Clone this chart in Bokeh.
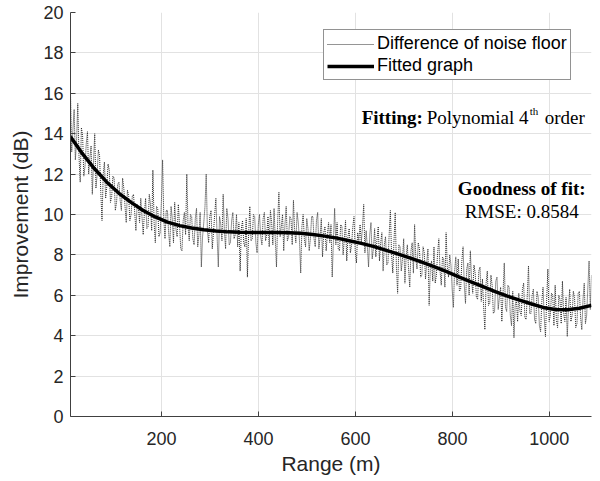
from bokeh.plotting import figure
from bokeh.models import Range1d, Label, Legend, LegendItem, FixedTicker
from bokeh.embed import file_html
from bokeh.resources import INLINE

# Range axis (m): one sample every 2.5 m
range_start = 12
range_step = 2.5
# Difference of noise floor (dB) (20 samples per 50 m)
noise_db = [
    16.0, 13.1, 14.2, 15.2, 12.7, 13.6, 15.5, 12.9, 11.6, 14.3, 13.9, 11.9, 12.4, 13.5, 14.1, 12.0, 12.8, 13.4, 11.0, 12.6,
    14.0, 11.3, 12.0, 13.2, 12.9, 11.1, 9.7, 12.0, 12.6, 10.8, 11.4, 12.5, 12.2, 10.6, 10.9, 11.9, 11.8, 10.2, 10.6, 11.5,
    11.6, 10.7, 10.2, 11.8, 11.3, 10.4, 9.6, 11.2, 10.9, 9.7, 10.0, 10.9, 11.0, 10.1, 9.2, 10.5, 10.4, 9.6, 10.8, 9.9,
    9.0, 10.1, 10.8, 9.3, 9.4, 11.0, 10.5, 9.2, 12.2, 9.6, 8.6, 10.4, 10.3, 8.9, 9.1, 10.6, 12.7, 9.8, 8.8, 10.2,
    10.2, 9.1, 8.4, 10.4, 9.8, 8.6, 10.6, 9.3, 8.9, 10.5, 9.5, 8.3, 8.2, 9.7, 10.1, 9.0, 12.0, 9.4, 8.7, 10.0,
    9.9, 8.8, 8.5, 9.8, 10.3, 8.4, 9.0, 10.1, 7.4, 8.9, 9.6, 10.4, 12.0, 9.2, 8.6, 9.9, 10.2, 8.3, 9.1, 10.0,
    10.8, 8.9, 7.4, 9.9, 9.5, 8.7, 11.0, 9.2, 8.3, 10.3, 9.8, 8.5, 8.6, 9.7, 10.1, 8.8, 9.0, 10.0, 8.4, 9.6,
    7.2, 9.3, 9.7, 8.6, 8.4, 9.8, 6.9, 9.0, 10.4, 8.7, 8.8, 10.0, 9.9, 8.6, 8.1, 9.5, 10.0, 8.9, 8.5, 9.8,
    10.1, 8.7, 9.0, 9.9, 8.4, 10.2, 9.6, 8.5, 10.3, 8.8, 7.4, 9.7, 11.1, 8.9, 9.4, 10.0, 8.2, 9.5, 10.4, 8.7,
    8.9, 9.9, 9.8, 8.5, 10.7, 9.2, 8.6, 10.1, 9.6, 8.7, 7.1, 9.4, 10.0, 8.8, 8.4, 9.8, 9.3, 8.2, 8.8, 9.9,
    9.9, 8.8, 8.4, 9.7, 10.1, 8.3, 8.9, 9.8, 7.9, 9.1, 9.4, 8.2, 9.0, 9.6, 8.6, 9.5, 6.9, 8.7, 10.3, 8.5,
    9.6, 8.3, 8.2, 9.5, 9.4, 8.0, 8.8, 9.7, 7.7, 8.9, 9.3, 8.1, 8.5, 9.4, 9.9, 8.2, 7.6, 9.1, 8.7, 9.5,
    8.6, 9.4, 10.5, 8.1, 9.2, 8.4, 7.4, 9.0, 9.6, 7.8, 8.3, 9.3, 7.9, 8.8, 9.4, 7.7, 8.6, 9.1, 7.2, 8.5,
    8.9, 7.5, 7.6, 9.0, 10.2, 8.0, 7.1, 8.7, 10.1, 7.4, 6.1, 8.5, 8.4, 7.2, 7.8, 8.8, 6.6, 7.9, 8.5, 7.3,
    6.4, 8.2, 8.6, 7.1, 9.5, 7.8, 7.3, 8.6, 8.3, 6.9, 7.0, 8.4, 8.1, 6.8, 7.6, 8.3, 5.5, 7.4, 7.7, 6.7,
    8.4, 6.6, 7.0, 8.1, 8.8, 7.2, 6.5, 7.9, 7.8, 6.4, 9.1, 7.4, 6.9, 8.0, 7.5, 6.3, 5.4, 7.2, 7.9, 6.5,
    7.8, 6.2, 6.3, 7.7, 8.4, 6.5, 5.6, 7.3, 7.6, 6.0, 8.2, 6.8, 6.1, 7.5, 7.1, 5.9, 5.8, 7.2, 7.4, 5.7,
    6.8, 5.4, 4.3, 6.6, 7.2, 5.5, 5.6, 7.0, 6.5, 5.1, 5.2, 6.7, 6.9, 5.3, 5.9, 6.4, 4.7, 6.1, 7.6, 5.4,
    5.2, 6.5, 6.4, 5.0, 4.5, 6.2, 3.9, 5.5, 5.8, 4.7, 6.1, 5.2, 5.0, 6.3, 6.6, 4.9, 4.8, 6.0, 7.46, 5.1,
    5.1, 6.0, 6.3, 4.8, 4.6, 6.2, 5.9, 4.5, 4.2, 5.7, 6.4, 4.9, 3.95, 5.8, 7.3, 4.7, 5.0, 6.1, 6.0, 4.5,
    6.5, 4.8, 4.4, 6.0, 5.8, 4.6, 6.7, 5.1, 4.7, 5.9, 3.96, 5.4, 6.3, 4.7, 5.0, 6.2, 5.9, 4.4, 4.6, 6.1,
    6.2, 4.9, 4.3, 5.8, 6.6, 4.6, 5.0, 6.4, 7.7, 5.3, 7.0,
]
noise_range = [range_start + range_step * i for i in range(len(noise_db))]

# Fitted graph (polynomial 4th order)
fit_range = [12, 37, 62, 87, 112, 137, 162, 187, 212, 237, 262, 287, 312, 337,
             362, 387, 412, 437, 462, 487, 512, 537, 562, 587, 612, 637, 662,
             687, 712, 737, 762, 787, 812, 837, 862, 887, 912, 937, 962, 987,
             1012, 1037, 1062, 1087]
fit_db = [13.85, 13.0, 12.25, 11.6, 11.05, 10.6, 10.2, 9.88, 9.62, 9.45, 9.33,
          9.24, 9.18, 9.14, 9.12, 9.11, 9.11, 9.11, 9.1, 9.07, 9.01, 8.93, 8.83,
          8.70, 8.57, 8.42, 8.24, 8.05, 7.85, 7.64, 7.42, 7.18, 6.93, 6.68,
          6.44, 6.2, 5.97, 5.77, 5.58, 5.4, 5.3, 5.29, 5.36, 5.5]

x_ticks = [200, 400, 600, 800, 1000]
y_ticks = [0, 2, 4, 6, 8, 10, 12, 14, 16, 18, 20]

p = figure(width=600, height=481, output_backend="svg", toolbar_location=None,
           x_range=Range1d(12, 1087), y_range=Range1d(0, 20),
           min_border_left=70, min_border_right=9, min_border_top=12,
           min_border_bottom=65)
p.outline_line_color = None
p.background_fill_color = "white"
p.border_fill_color = "white"

axis_col = "#262626"
for ax in (p.xaxis, p.yaxis):
    ax.axis_line_color = "#404040"
    ax.axis_line_width = 1
    ax.major_tick_line_color = "#404040"
    ax.major_tick_in = 5
    ax.major_tick_out = 0
    ax.minor_tick_line_color = None
    ax.major_label_text_font = "Liberation Sans"
    ax.major_label_text_font_size = "18px"
    ax.major_label_text_color = axis_col
    ax.axis_label_text_font = "Liberation Sans"
    ax.axis_label_text_font_size = "21px"
    ax.axis_label_text_font_style = "normal"
    ax.axis_label_text_color = axis_col

p.xaxis.ticker = FixedTicker(ticks=x_ticks)
p.yaxis.ticker = FixedTicker(ticks=y_ticks)
p.xaxis.axis_label = "Range (m)"
p.yaxis.axis_label = "Improvement (dB)"
p.xaxis.major_label_standoff = 15
p.xaxis.axis_label_standoff = 4
p.yaxis.major_label_standoff = 7
p.yaxis.axis_label_standoff = 8

p.xgrid.ticker = FixedTicker(ticks=x_ticks)
p.ygrid.ticker = FixedTicker(ticks=y_ticks)
for g in (p.xgrid, p.ygrid):
    g.grid_line_color = "#e2e2e2"
    g.grid_line_width = 1

r1 = p.line(noise_range, noise_db, line_color="#2a2a2a", line_width=1,
            line_dash="1 1")
r2 = p.line(fit_range, fit_db, line_color="black", line_width=3.5)

legend = Legend(items=[LegendItem(label="Difference of noise floor", renderers=[r1]),
                       LegendItem(label="Fitted graph", renderers=[r2])],
                location=(253, 336))
legend.border_line_color = "#262626"
legend.border_line_width = 1
legend.background_fill_color = "white"
legend.background_fill_alpha = 1
legend.padding = 3
legend.spacing = 1
legend.margin = 0
legend.label_standoff = 3
legend.glyph_width = 47
legend.glyph_height = 20
legend.label_height = 20
legend.label_text_font = "Liberation Sans"
legend.label_text_font_size = "18px"
legend.label_text_color = "black"
p.add_layout(legend)

serif = "Liberation Serif"
texts = [
    dict(x=612.7, y=14.79, text="Fitting:", style="bold", size="19px", align="left"),
    dict(x=747.0, y=14.79, text="Polynomial 4", style="normal", size="19px", align="left"),
    dict(x=959.6, y=15.13, text="th", style="normal", size="11px", align="left"),
    dict(x=1073.0, y=14.79, text="order", style="normal", size="19px", align="right"),
    dict(x=943.0, y=11.3, text="Goodness of fit:", style="bold", size="19px", align="center"),
    dict(x=943.0, y=10.15, text="RMSE: 0.8584", style="normal", size="19px", align="center"),
]
for t in texts:
    p.add_layout(Label(x=t["x"], y=t["y"], text=t["text"], text_font=serif,
                       text_font_style=t["style"], text_font_size=t["size"],
                       text_color="black", text_baseline="alphabetic",
                       text_align=t["align"]))

open("out.html", "w").write(file_html(p, INLINE))
